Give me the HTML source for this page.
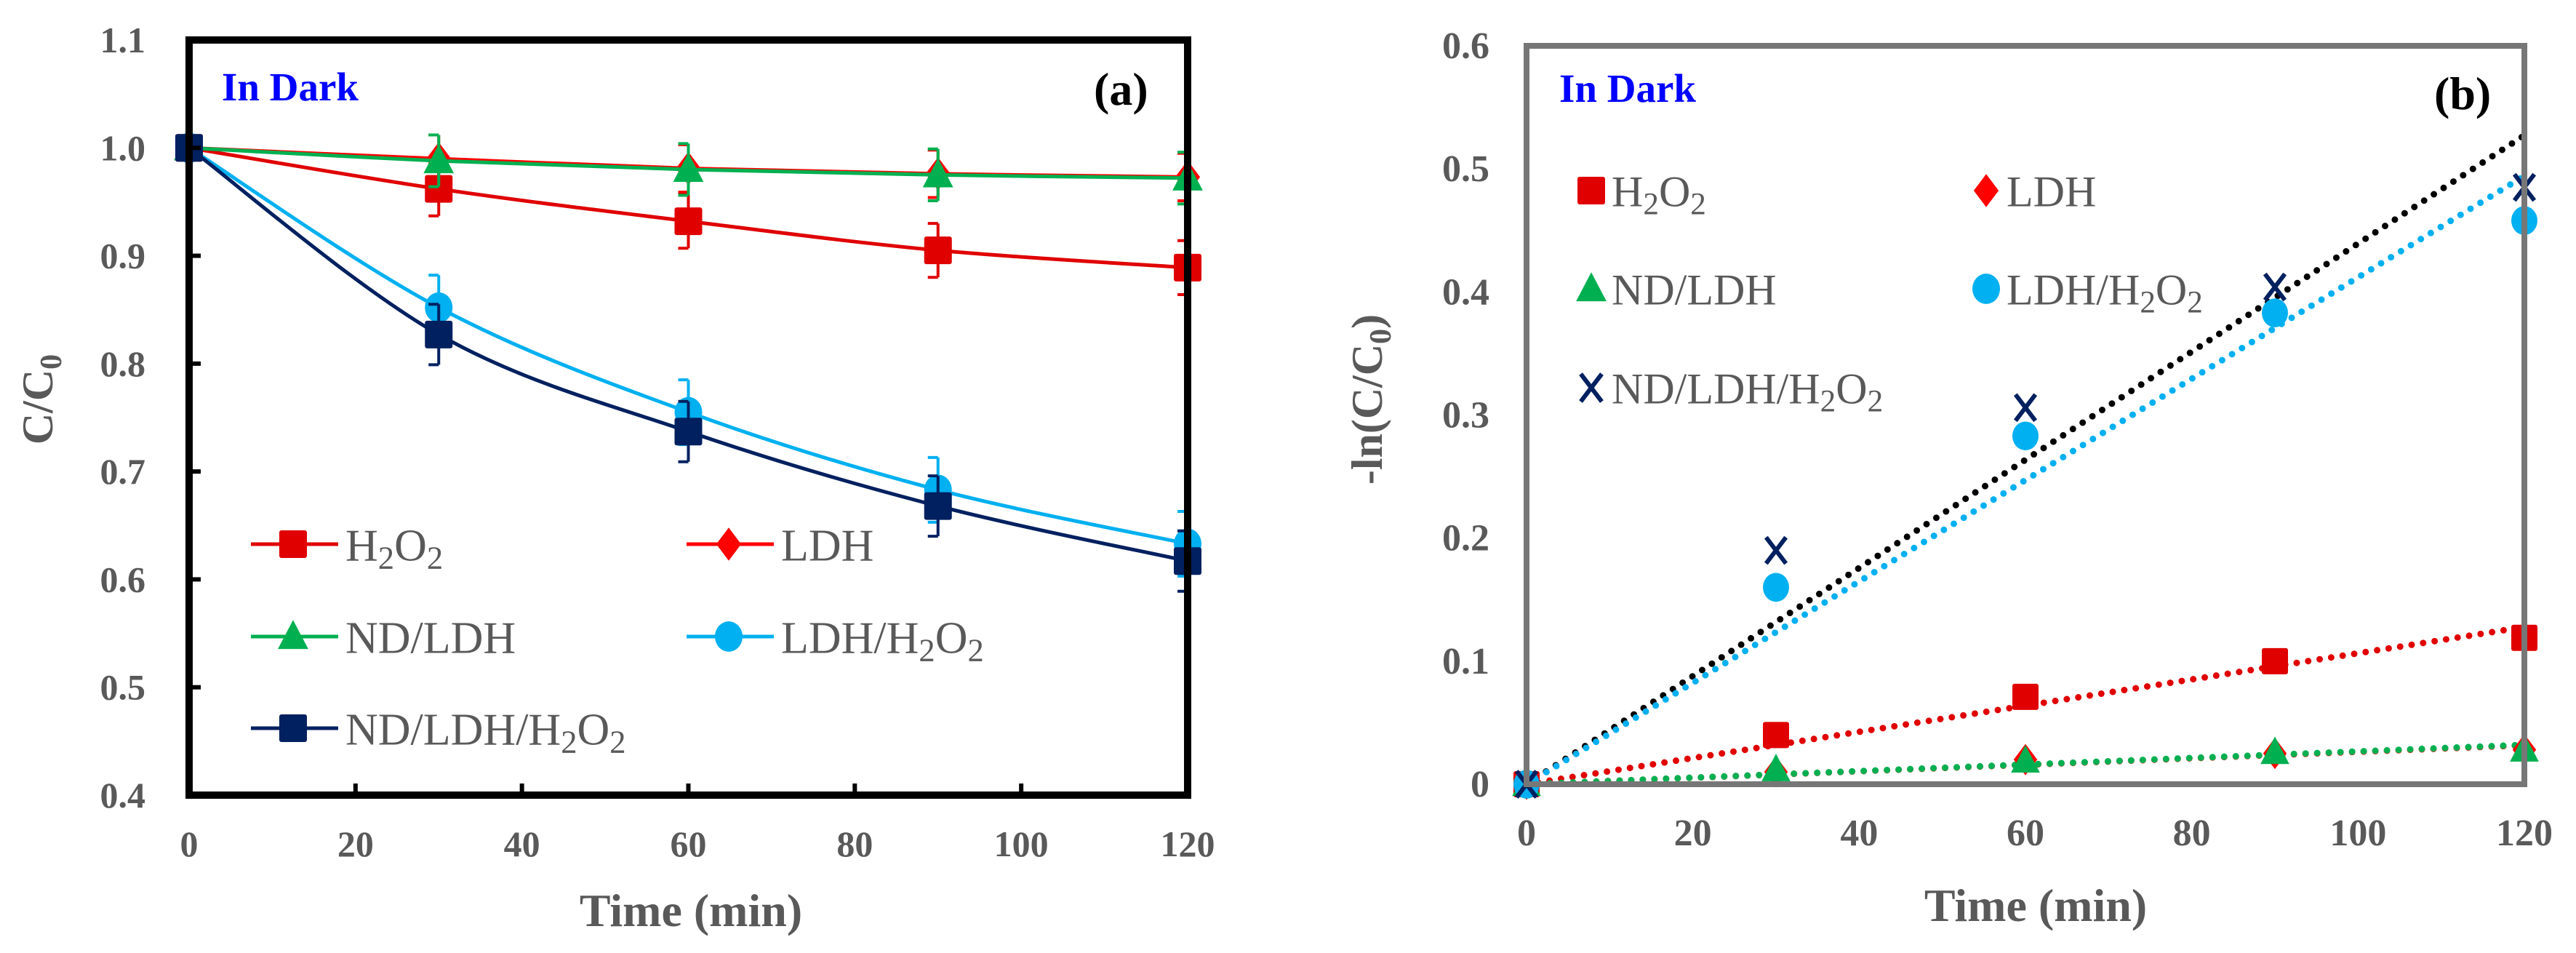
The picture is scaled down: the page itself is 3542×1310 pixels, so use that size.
<!DOCTYPE html>
<html><head><meta charset="utf-8"><style>
html,body{margin:0;padding:0;background:#fff;}
svg{display:block;font-family:"Liberation Serif",serif;}
</style></head><body>
<svg id="chart" width="3542" height="1310" viewBox="0 0 3542 1310" xmlns="http://www.w3.org/2000/svg">
<g id="pa"></g>
<g id="pb"></g>
</svg>
<script>
const times = [0, 30, 60, 90, 120];
const seriesNames = ["H2O2", "LDH", "ND/LDH", "LDH/H2O2", "ND/LDH/H2O2"];
const aH2O2 = [1.0, 0.962, 0.932, 0.905, 0.889];
const aLDH = [1.0, 0.99, 0.981, 0.976, 0.973];
const aNDLDH = [1.0, 0.988, 0.98, 0.975, 0.972];
const aLDHH2O2 = [1.0, 0.852, 0.755, 0.683, 0.633];
const aNDLDHH2O2 = [1.0, 0.827, 0.737, 0.668, 0.617];
const aErr = [0.025, 0.022, 0.024, 0.03, 0.028];
const bH2O2 = [0, 0.04, 0.071, 0.1, 0.119];
const bLDH = [0, 0.01, 0.02, 0.025, 0.028];
const bNDLDH = [0, 0.012, 0.019, 0.026, 0.028];
const bLDHH2O2 = [0, 0.16, 0.283, 0.383, 0.458];
const bNDLDHH2O2 = [0, 0.19, 0.306, 0.404, 0.485];
const xTicks = [0, 20, 40, 60, 80, 100, 120];
const aYTicks = ["0.4","0.5","0.6","0.7","0.8","0.9","1.0","1.1"];
const bYTicks = ["0","0.1","0.2","0.3","0.4","0.5","0.6"];

const NS = "http://www.w3.org/2000/svg";
function mk(parent, tag, attrs, text){
  const e = document.createElementNS(NS, tag);
  for (const k in attrs) e.setAttribute(k, attrs[k]);
  if (text !== undefined) e.textContent = text;
  parent.appendChild(e);
  return e;
}
const colors = ["#e00000","#ff0000","#00b050","#00b0f0","#002060"];

const A = {x0:260, x1:1633, y0:1093, y1:55, ymin:0.4, ymax:1.1};
const ax = t => A.x0 + (t/120)*(A.x1-A.x0);
const ay = v => A.y0 - (v-A.ymin)/(A.ymax-A.ymin)*(A.y0-A.y1);
const B = {x0:2099, x1:3471, y0:1078, y1:63, ymin:0, ymax:0.6};
const bx = t => B.x0 + (t/120)*(B.x1-B.x0);
const by = v => B.y0 - (v-B.ymin)/(B.ymax-B.ymin)*(B.y0-B.y1);

function marker(g, kind, x, y, color, s){
  let e;
  if (kind==="square") e = mk(g,"rect",{x:x-s/2,y:y-s/2,width:s,height:s,rx:3,fill:color});
  else if (kind==="diamond") e = mk(g,"polygon",{points:`${x},${y-s*0.6} ${x+s*0.45},${y} ${x},${y+s*0.6} ${x-s*0.45},${y}`,fill:color});
  else if (kind==="triangle") e = mk(g,"polygon",{points:`${x},${y-s*0.6} ${x+s*0.55},${y+s*0.45} ${x-s*0.55},${y+s*0.45}`,fill:color});
  else if (kind==="circle") e = mk(g,"ellipse",{cx:x,cy:y,rx:s*0.5,ry:s*0.55,fill:color});
  else { e = mk(g,"path",{d:`M${x-s*0.38},${y-s*0.5} L${x+s*0.38},${y+s*0.5} M${x+s*0.38},${y-s*0.5} L${x-s*0.38},${y+s*0.5}`,stroke:color,"stroke-width":6,fill:"none"}); }
  
  
  return e;
}
const kinds = ["square","diamond","triangle","circle","square"];

function smoothPath(pts){
  let d = `M${pts[0][0]},${pts[0][1]}`;
  for (let i=0;i<pts.length-1;i++){
    const p0=pts[Math.max(0,i-1)], p1=pts[i], p2=pts[i+1], p3=pts[Math.min(pts.length-1,i+2)];
    const c1=[p1[0]+(p2[0]-p0[0])/6, p1[1]+(p2[1]-p0[1])/6];
    const c2=[p2[0]-(p3[0]-p1[0])/6, p2[1]-(p3[1]-p1[1])/6];
    d += ` C${c1[0]},${c1[1]} ${c2[0]},${c2[1]} ${p2[0]},${p2[1]}`;
  }
  return d;
}

// ---- Panel A ----
const pa = document.getElementById('pa');
const aData = [aH2O2, aLDH, aNDLDH, aLDHH2O2, aNDLDHH2O2];
const aOrder = [1,0,2,3,4];
aOrder.forEach(i=>{
  const g = mk(pa,"g",{});
  
  
  const pts = aData[i].map((v,j)=>[ax(times[j]), ay(v)]);
  const line = mk(g,"path",{d:smoothPath(pts),fill:"none",stroke:colors[i],"stroke-width":5});
  
  
  aData[i].forEach((v,j)=>{
    if (j>0){
      const x = ax(times[j]), e = aErr[i];
      const eb = mk(g,"path",{d:`M${x},${ay(v+e)} L${x},${ay(v-e)} M${x-14},${ay(v+e)} L${x},${ay(v+e)} M${x-14},${ay(v-e)} L${x},${ay(v-e)}`,stroke:colors[i],"stroke-width":4,fill:"none"});
      
      
    }
    marker(g, kinds[i], ax(times[j]), ay(v), colors[i], 38);
  });
});
mk(pa,"path",{d:`M${A.x0},${A.y1} L${A.x0},${A.y0} L${A.x1},${A.y0} L${A.x1},${A.y1} Z`,fill:"none",stroke:"#000","stroke-width":10,});
xTicks.forEach(t=>{
  const x=ax(t);
  mk(pa,"line",{x1:x,x2:x,y1:A.y0,y2:A.y0-16,stroke:"#000","stroke-width":6,});
  mk(pa,"text",{x:x,y:1177,"text-anchor":"middle","font-size":50,"font-weight":"bold",fill:"#595959",},String(t));
});
aYTicks.forEach(s=>{
  const y=ay(parseFloat(s));
  mk(pa,"line",{x1:A.x0,x2:A.x0+16,y1:y,y2:y,stroke:"#000","stroke-width":6,});
  mk(pa,"text",{x:200,y:y+17,"text-anchor":"end","font-size":50,"font-weight":"bold",fill:"#595959",},s);
});
mk(pa,"text",{x:950,y:1273,"text-anchor":"middle","font-size":64,"font-weight":"bold",fill:"#595959",},"Time (min)");
const ta = mk(pa,"text",{transform:"translate(72,549) rotate(-90)","text-anchor":"middle","font-size":60,"font-weight":"bold",fill:"#595959",},"C/C");
mk(ta,"tspan",{"font-size":42,dy:12},"0");
mk(pa,"text",{x:305,y:138,"font-size":55,"font-weight":"bold",fill:"#0000ff",},"In Dark");
mk(pa,"text",{x:1504,y:144,"font-size":64,"font-weight":"bold",fill:"#000",},"(a)");

function legendText(g, x, y, name, size){
  const t = mk(g,"text",{x:x,y:y+size*0.36,"font-size":size,fill:"#595959"});
  
  
  const parts = name.split(/(2)/);
  parts.forEach(p=>{
    if (p==="2") mk(t,"tspan",{"font-size":size*0.72},"2");
    else if (p) mk(t,"tspan",{},p);
  });
  let shift = 0;
  Array.from(t.childNodes).forEach(n=>{
    if (n.textContent==="2"){ n.setAttribute('dy', size*0.18 - shift); shift = size*0.18; }
    else { n.setAttribute('dy', -shift); shift = 0; }
  });
}
const aLeg = [[345,748],[944,748],[345,875],[944,875],[345,1001]];
aLeg.forEach((p,i)=>{
  const g = mk(pa,"g",{});
  
  
  mk(g,"line",{x1:p[0],x2:p[0]+120,y1:p[1],y2:p[1],stroke:colors[i],"stroke-width":5});
  marker(g, kinds[i], p[0]+58, p[1], colors[i], 38);
  legendText(g, p[0]+130, p[1], seriesNames[i], 62);
});

// ---- Panel B ----
const pb = document.getElementById('pb');
const bData = [bH2O2, bLDH, bNDLDH, bLDHH2O2, bNDLDHH2O2];
const bColors = ["#e00000","#ff0000","#00b050","#00b0f0","#002060"];
const fitColors = ["#e00000","#ff0000","#00b050","#00b0f0","#000000"];
const bKinds = ["square","diamond","triangle","circle","cross"];
[4,3,0,1,2].forEach(i=>{
  let sxy=0,sxx=0;
  times.forEach((t,j)=>{sxy+=t*bData[i][j]; sxx+=t*t;});
  const k = sxy/sxx;
  const l = mk(pb,"line",{x1:bx(0),y1:by(0),x2:bx(120),y2:by(k*120),stroke:fitColors[i],"stroke-width":9,"stroke-dasharray":"0 16","stroke-linecap":"round"});
  
  
});
[0,1,2,3,4].forEach(i=>{
  const g = mk(pb,"g",{});
  
  
  bData[i].forEach((v,j)=> marker(g, bKinds[i], bx(times[j]), by(v), bColors[i], 36));
});
mk(pb,"path",{d:`M${B.x0},${B.y1} L${B.x0},${B.y0} L${B.x1},${B.y0} L${B.x1},${B.y1} Z`,fill:"none",stroke:"#777","stroke-width":8,});
xTicks.forEach(t=>{
  mk(pb,"text",{x:bx(t),y:1162,"text-anchor":"middle","font-size":52,"font-weight":"bold",fill:"#595959",},String(t));
});
bYTicks.forEach(s=>{
  mk(pb,"text",{x:2048,y:by(parseFloat(s))+17,"text-anchor":"end","font-size":52,"font-weight":"bold",fill:"#595959",},s);
});
mk(pb,"text",{x:2799,y:1266,"text-anchor":"middle","font-size":64,"font-weight":"bold",fill:"#595959",},"Time (min)");
const tb = mk(pb,"text",{transform:"translate(1900,549) rotate(-90)","text-anchor":"middle","font-size":60,"font-weight":"bold",fill:"#595959",},"-ln(C/C");
mk(tb,"tspan",{"font-size":42,dy:12},"0");
mk(tb,"tspan",{dy:-12},")");
mk(pb,"text",{x:2144,y:140,"font-size":55,"font-weight":"bold",fill:"#0000ff",},"In Dark");
mk(pb,"text",{x:3347,y:150,"font-size":64,"font-weight":"bold",fill:"#000",},"(b)");
const bLeg = [[2188,262],[2731,262],[2188,397],[2731,397],[2188,533]];
bLeg.forEach((p,i)=>{
  const g = mk(pb,"g",{});
  
  
  marker(g, bKinds[i], p[0], p[1], bColors[i], 38);
  legendText(g, p[0]+28, p[1], seriesNames[i], 60);
});
</script>
</body></html>
